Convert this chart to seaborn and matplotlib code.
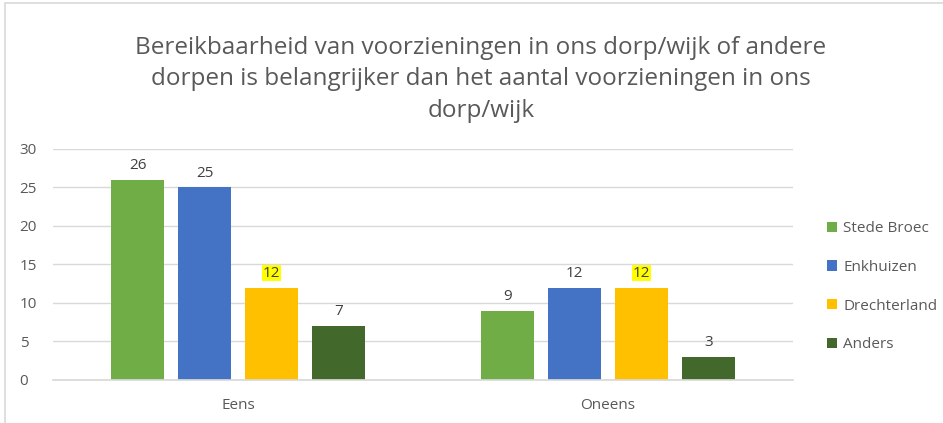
import matplotlib
matplotlib.use('Agg')
import matplotlib.pyplot as plt
import seaborn as sns
import pandas as pd
from matplotlib.patches import Rectangle, Patch

# data
categories = ['Eens', 'Oneens']
series = ['Stede Broec', 'Enkhuizen', 'Drechterland', 'Anders']
stede_broec = [26, 9]
enkhuizen = [25, 12]
drechterland = [12, 12]
anders = [7, 3]
colors = ['#70ad47', '#4472c4', '#ffc000', '#43682b']
title = ('Bereikbaarheid van voorzieningen in ons dorp/wijk of andere\n'
         'dorpen is belangrijker dan het aantal voorzieningen in ons\n'
         'dorp/wijk')

rows = []
for name, vals in zip(series, [stede_broec, enkhuizen, drechterland, anders]):
    for cat, v in zip(categories, vals):
        rows.append({'cat': cat, 'serie': name, 'val': v})
df = pd.DataFrame(rows)

sns.set_theme(style='white')
plt.rcParams['font.family'] = ['Open Sans', 'DejaVu Sans']
txt = '#595959'

fig = plt.figure(figsize=(9.43, 4.23), dpi=100)
ax = fig.add_axes([0.0562, 0.1017, 0.7848, 0.5461])

sns.barplot(data=df, x='cat', y='val', hue='serie', palette=colors,
            width=0.724, gap=0.21, ax=ax, legend=False, saturation=1,
            linewidth=0)

for i, cont in enumerate(ax.containers):
    labs = ax.bar_label(cont, padding=5, fontsize=11, color='#404040')
    if series[i] == 'Drechterland':
        for t in labs:
            t.set_bbox(dict(facecolor='#ffff00', edgecolor='none', pad=0.5))

ax.set_ylim(0, 30)
ax.set_xlim(-0.5, 1.5)
ax.set_yticks(range(0, 31, 5))
ax.yaxis.grid(True, color='#d9d9d9', lw=1)
ax.set_axisbelow(True)
for s in ['top', 'right', 'left']:
    ax.spines[s].set_visible(False)
ax.spines['bottom'].set_color('#d9d9d9')
ax.tick_params(axis='both', length=0, labelsize=11, colors=txt)
ax.tick_params(axis='x', pad=13)
ax.tick_params(axis='y', pad=24)
for lab in ax.get_yticklabels():
    lab.set_horizontalalignment('left')
ax.set_xlabel('')
ax.set_ylabel('')

handles = [Patch(facecolor=c, edgecolor='none') for c in colors]
fig.legend(handles, series, loc='center left', bbox_to_anchor=(0.862, 0.322),
           frameon=False, fontsize=11, labelcolor=txt,
           handlelength=0.65, handleheight=0.65, handletextpad=0.45,
           labelspacing=1.55)

fig.text(0.51, 0.813, title, ha='center', va='center', fontsize=17.5,
         color=txt, linespacing=1.42)

fig.patches.append(Rectangle((4.5 / 943, -0.1), 1.2, 1.1 - 3.5 / 423,
                             transform=fig.transFigure, fill=False,
                             edgecolor='#d9d9d9', lw=1.2))

fig.savefig('out.png', dpi=100)
